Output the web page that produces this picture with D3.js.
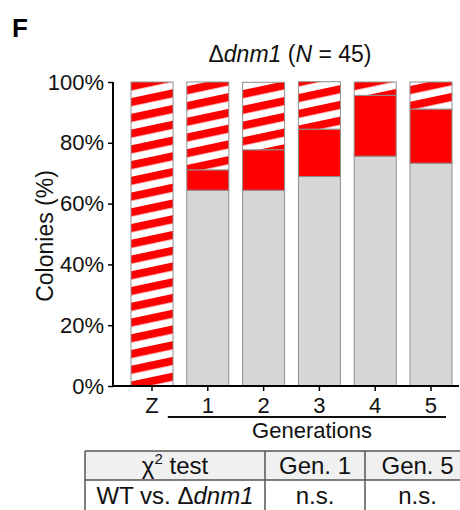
<!DOCTYPE html>
<html>
<head>
<meta charset="utf-8">
<script src="https://cdn.jsdelivr.net/npm/d3@7"></script>
<style>
  body { margin: 0; background: #fff; }
  svg { display: block; font-family: "Liberation Sans", Arial, Helvetica, sans-serif; }
</style>
</head>
<body>
<div id="chart"></div>
<script>
// generations on x axis
var categories = ["Z", "1", "2", "3", "4", "5"];
// % of colonies (N = 45), bottom to top
var grayValues  = [0, 64.4, 64.4, 68.9, 75.6, 73.3];
var redValues   = [0, 6.7, 13.3, 15.6, 20.0, 17.8];
var hatchValues = [100, 28.9, 22.2, 15.6, 4.4, 8.9];
var yTicks = [0, 20, 40, 60, 80, 100];

var tableHeader = ["χ2 test", "Gen. 1", "Gen. 5"];
var tableRow = ["WT vs. Δdnm1", "n.s.", "n.s."];

var data = categories.map(function(c, i) {
  return { cat: c, gray: grayValues[i], red: redValues[i], hatch: hatchValues[i] };
});

var W = 460, H = 510;

var svg = d3.select("#chart").append("svg")
  .attr("width", W)
  .attr("height", H);

// hatched pattern: red stripes rising to the right
var defs = svg.append("defs");
var pat = defs.append("pattern")
  .attr("id", "hatch")
  .attr("patternUnits", "userSpaceOnUse")
  .attr("width", 200)
  .attr("height", 15.4)
  .attr("patternTransform", "rotate(-12)");
pat.append("rect").attr("width", 200).attr("height", 15.4).attr("fill", "#fff");
pat.append("rect").attr("width", 200).attr("height", 8).attr("fill", "#ff0000");

var x = d3.scaleBand()
  .domain(categories)
  .range([131, 452])
  .paddingInner(0.247)
  .paddingOuter(0);

var y = d3.scaleLinear()
  .domain([0, 100])
  .range([386, 82]);

var stack = d3.stack().keys(["gray", "red", "hatch"]);
var series = stack(data);

var fills = { gray: "#d6d6d6", red: "#ff0000", hatch: "url(#hatch)" };

svg.append("g").selectAll("g")
  .data(series)
  .enter().append("g")
  .attr("fill", function(d) { return fills[d.key]; })
  .selectAll("rect")
  .data(function(d) { return d.filter(function(e) { return e[1] - e[0] > 0; }); })
  .enter().append("rect")
  .attr("x", function(d) { return x(d.data.cat); })
  .attr("y", function(d) { return y(d[1]); })
  .attr("width", x.bandwidth())
  .attr("height", function(d) { return y(d[0]) - y(d[1]); })
  .attr("stroke", "#8f8f8f")
  .attr("stroke-width", 1);

// y axis
var yAxis = svg.append("g")
  .attr("transform", "translate(113,0)")
  .call(d3.axisLeft(y).tickValues(yTicks).tickSize(5).tickPadding(4)
    .tickFormat(function(d) { return d + "%"; }));
yAxis.select(".domain").attr("stroke-width", 2).attr("d", "M0,82V386");
yAxis.selectAll(".tick line").attr("stroke-width", 1.5);
yAxis.selectAll(".tick text")
  .attr("font-size", 22)
  .attr("font-family", "Liberation Sans, Arial, sans-serif")
  .attr("fill", "#111");

// x axis
var xAxis = svg.append("g")
  .attr("transform", "translate(0,386)")
  .call(d3.axisBottom(x).tickSize(5).tickPadding(6));
xAxis.select(".domain").attr("stroke-width", 2).attr("d", "M113,0H459");
xAxis.selectAll(".tick line").attr("stroke-width", 1.5);
xAxis.selectAll(".tick text")
  .attr("font-size", 22)
  .attr("font-family", "Liberation Sans, Arial, sans-serif")
  .attr("fill", "#111");

// generations bracket
svg.append("line")
  .attr("x1", x("1") - 19).attr("x2", x("5") + x.bandwidth() - 6)
  .attr("y1", 417).attr("y2", 417)
  .attr("stroke", "#111").attr("stroke-width", 2);
svg.append("text")
  .attr("x", 312).attr("y", 438)
  .attr("text-anchor", "middle")
  .attr("font-size", 22)
  .attr("fill", "#111")
  .text("Generations");

// y label
svg.append("text")
  .attr("transform", "translate(53,236) rotate(-90)")
  .attr("text-anchor", "middle")
  .attr("font-size", 23)
  .attr("fill", "#111")
  .text("Colonies (%)");

// panel letter
svg.append("text")
  .attr("x", 12).attr("y", 37)
  .attr("font-size", 26)
  .attr("font-weight", "bold")
  .text("F");

// title
var title = svg.append("text")
  .attr("x", 290).attr("y", 62)
  .attr("text-anchor", "middle")
  .attr("font-size", 23)
  .attr("fill", "#111");
title.append("tspan").text("Δ");
title.append("tspan").attr("font-style", "italic").text("dnm1");
title.append("tspan").text(" (");
title.append("tspan").attr("font-style", "italic").text("N");
title.append("tspan").text(" = 45)");

// chi-square table
var colEdges = [85, 265, 365, 470];
var rowEdges = [451, 480, 512];
var table = svg.append("g");

table.append("rect")
  .attr("x", colEdges[0]).attr("y", rowEdges[0])
  .attr("width", colEdges[3] - colEdges[0]).attr("height", rowEdges[1] - rowEdges[0])
  .attr("fill", "#f0f0f0");

table.selectAll("line.h")
  .data(rowEdges)
  .enter().append("line")
  .attr("class", "h")
  .attr("x1", colEdges[0]).attr("x2", colEdges[3])
  .attr("y1", function(d) { return d; }).attr("y2", function(d) { return d; })
  .attr("stroke", "#555").attr("stroke-width", 1.5);

table.selectAll("line.v")
  .data(colEdges)
  .enter().append("line")
  .attr("class", "v")
  .attr("x1", function(d) { return d; }).attr("x2", function(d) { return d; })
  .attr("y1", rowEdges[0]).attr("y2", rowEdges[2])
  .attr("stroke", "#555").attr("stroke-width", 1.5);

function colCenter(i) { return (colEdges[i] + colEdges[i + 1]) / 2; }

function cellText(txt, i, yBase) {
  var t = table.append("text")
    .attr("x", colCenter(i)).attr("y", yBase)
    .attr("text-anchor", "middle")
    .attr("font-size", 24)
    .attr("fill", "#111");
  if (txt.indexOf("χ2") === 0) {
    t.append("tspan").text("χ");
    t.append("tspan").attr("font-size", 15).attr("dy", -10).text("2");
    t.append("tspan").attr("dy", 10).text(txt.slice(2));
  } else if (txt.indexOf("Δ") >= 0) {
    var k = txt.indexOf("Δ");
    t.append("tspan").text(txt.slice(0, k + 1));
    t.append("tspan").attr("font-style", "italic").text(txt.slice(k + 1));
  } else {
    t.text(txt);
  }
}

tableHeader.forEach(function(d, i) { cellText(d, i, 474); });
tableRow.forEach(function(d, i) { cellText(d, i, 504); });
</script>
</body>
</html>
